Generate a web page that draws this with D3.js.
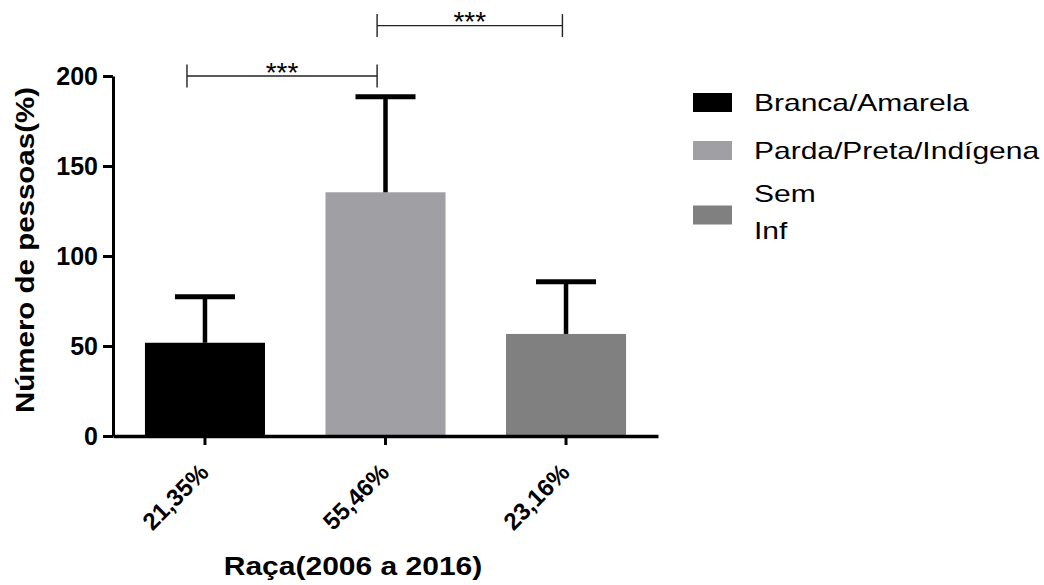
<!DOCTYPE html>
<html>
<head>
<meta charset="utf-8">
<script src="https://cdn.jsdelivr.net/npm/d3@7"></script>
<style>
  html, body { margin: 0; padding: 0; background: #fff; }
  svg { display: block; }
  text { font-family: "Liberation Sans", Arial, sans-serif; fill: #000; }
</style>
</head>
<body>
<svg id="chart" width="1044" height="585"></svg>
<script>
// Groups along the x axis (share of cases) and their mean / upper SD
const categories = ["21,35%", "55,46%", "23,16%"];
const means = [51.8, 135.4, 56.7];
const sdUpper = [25.6, 53.1, 29.0];
const colors = ["#000000", "#a0a0a4", "#808080"];
const legendLabels = [["Branca/Amarela"], ["Parda/Preta/Indígena"], ["Sem", "Inf"]];
const yTicks = [0, 50, 100, 150, 200];
// Pairwise comparisons: [group A, group B, label, height in axis units]
const comparisons = [[0, 1, "***", 200], [1, 2, "***", 228]];

const svg = d3.select("#chart");

const y = d3.scaleLinear().domain([0, 200]).range([436, 76]);
const x = d3.scaleBand().domain(categories).range([113, 658])
  .paddingInner(0.335).paddingOuter(0.177);
const bw = x.bandwidth();
const cx = c => x(c) + bw / 2;

// Bars
svg.append("g").selectAll("rect").data(categories).join("rect")
  .attr("x", d => x(d))
  .attr("y", (d, i) => y(means[i]))
  .attr("width", bw)
  .attr("height", (d, i) => y(0) - y(means[i]))
  .attr("fill", (d, i) => colors[i]);

// Error bars (upper only)
const eb = svg.append("g").attr("stroke", "#000");
categories.forEach((c, i) => {
  const top = y(means[i] + sdUpper[i]);
  eb.append("line").attr("x1", cx(c)).attr("x2", cx(c))
    .attr("y1", y(means[i])).attr("y2", top).attr("stroke-width", 4.5);
  eb.append("line").attr("x1", cx(c) - bw / 4).attr("x2", cx(c) + bw / 4)
    .attr("y1", top).attr("y2", top).attr("stroke-width", 5);
});

// Y axis
const yAxis = svg.append("g").attr("transform", "translate(113,0)")
  .call(d3.axisLeft(y).tickValues(yTicks).tickSize(10).tickSizeOuter(0).tickPadding(5));
yAxis.select(".domain").attr("stroke", "#000").attr("stroke-width", 3);
yAxis.selectAll(".tick line").attr("stroke", "#000").attr("stroke-width", 3);
yAxis.selectAll(".tick text").attr("font-size", 25).attr("font-weight", "bold")
  .attr("font-family", "Liberation Sans, Arial, sans-serif").attr("fill", "#000");

// X axis
const xAxis = svg.append("g").attr("transform", "translate(0,436)")
  .call(d3.axisBottom(x).tickSize(9).tickSizeOuter(0));
xAxis.select(".domain").attr("stroke", "#000").attr("stroke-width", 3.5);
xAxis.selectAll(".tick line").attr("stroke", "#000").attr("stroke-width", 3);
xAxis.selectAll(".tick text").remove();
svg.append("g").selectAll("text").data(categories).join("text")
  .attr("transform", d => `translate(${cx(d) + 5},474) rotate(-45)`)
  .attr("text-anchor", "end")
  .attr("font-size", 24).attr("font-weight", "bold")
  .text(d => d);

// Axis titles
svg.append("text")
  .attr("transform", "translate(34,250) rotate(-90) scale(1.18,1)")
  .attr("text-anchor", "middle").attr("font-size", 25).attr("font-weight", "bold")
  .text("Número de pessoas(%)");
svg.append("text")
  .attr("transform", "translate(353,575) scale(1.2,1)")
  .attr("text-anchor", "middle").attr("font-size", 25).attr("font-weight", "bold")
  .text("Raça(2006 a 2016)");

// Significance brackets
const anchorFrac = [0.35, 0.43, 0.47];
const sig = svg.append("g");
comparisons.forEach(([a, b, label, level]) => {
  const x1 = x(categories[a]) + bw * anchorFrac[a];
  const x2 = x(categories[b]) + bw * anchorFrac[b];
  const yy = y(level);
  const g = sig.append("g").attr("stroke", "#222").attr("stroke-width", 1.4);
  g.append("line").attr("x1", x1).attr("x2", x2).attr("y1", yy).attr("y2", yy);
  g.append("line").attr("x1", x1).attr("x2", x1).attr("y1", yy - 11.5).attr("y2", yy + 11.5);
  g.append("line").attr("x1", x2).attr("x2", x2).attr("y1", yy - 11.5).attr("y2", yy + 11.5);
  sig.append("text").attr("x", (x1 + x2) / 2).attr("y", yy + 5.5)
    .attr("text-anchor", "middle").attr("font-size", 28).attr("fill", "#222")
    .text(label);
});

// Legend
const legendCenters = [102.5, 150.5, 215];
const legend = svg.append("g");
legendLabels.forEach((lines, i) => {
  const cy = legendCenters[i];
  legend.append("rect").attr("x", 693).attr("y", cy - 9.5)
    .attr("width", 39).attr("height", 19).attr("fill", colors[i]);
  const lineGap = 37;
  const firstBase = cy + 8 - (lines.length - 1) * lineGap / 2 - (lines.length - 1) * 3;
  lines.forEach((t, k) => {
    legend.append("text")
      .attr("transform", `translate(754,${firstBase + k * lineGap}) scale(1.25,1)`)
      .attr("font-size", 24)
      .text(t);
  });
});
</script>
</body>
</html>
